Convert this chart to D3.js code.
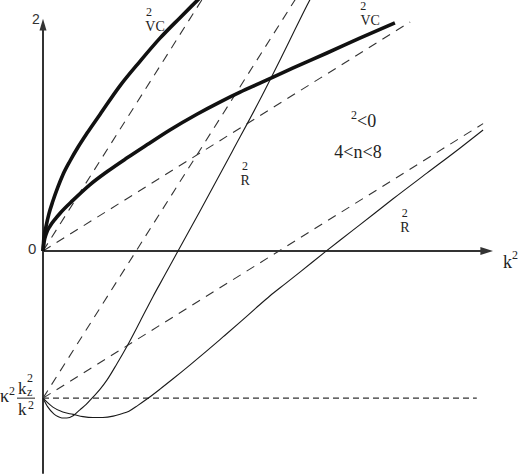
<!DOCTYPE html>
<html>
<head>
<meta charset="utf-8">
<script src="https://cdn.jsdelivr.net/npm/d3@7"></script>
<style>
  html, body { margin: 0; padding: 0; background: #fff; }
  svg { display: block; }
</style>
</head>
<body>
<div id="chart"></div>
<script>
// schematic dispersion curves, values in plot units (x = k^2, y = omega^2)
const kzLevel = -3.27;

const vcUpper = [[0,0],[0.02,0.29],[0.07,0.56],[0.13,0.82],[0.22,1.11],[0.33,1.42],[0.44,1.69],
  [0.60,2.00],[0.78,2.31],[0.98,2.62],[1.27,3.04],[1.71,3.67],[2.16,4.22],[2.60,4.73],
  [3.04,5.18],[3.44,5.58],[3.53,5.67]];

const vcLower = [[0,0],[0.02,0.18],[0.07,0.38],[0.16,0.56],[0.27,0.71],[0.38,0.84],[0.67,1.13],
  [1.04,1.47],[1.42,1.76],[1.87,2.07],[2.31,2.36],[2.82,2.69],[3.42,3.04],[3.93,3.31],
  [4.38,3.53],[4.82,3.73],[5.56,4.07],[6.31,4.40],[7.04,4.73],[7.82,5.07]];

const rSteep = [[0,-3.27],[0.11,-3.47],[0.24,-3.62],[0.33,-3.68],[0.42,-3.71],[0.53,-3.71],
  [0.67,-3.66],[0.82,-3.53],[0.96,-3.41],[1.09,-3.27],[1.27,-3.07],[1.42,-2.87],[1.64,-2.51],
  [1.87,-2.11],[2.16,-1.56],[2.44,-1.02],[2.71,-0.53],[3.00,0],[3.49,0.89],[4.22,2.24],
  [4.82,3.36],[5.38,4.47],[5.93,5.58],[6.00,5.71]];

const rWide = [[0,-3.27],[0.22,-3.47],[0.44,-3.58],[0.67,-3.63],[0.89,-3.68],[1.11,-3.70],
  [1.33,-3.70],[1.56,-3.67],[1.73,-3.62],[1.91,-3.56],[2.11,-3.43],[2.31,-3.29],[2.60,-3.07],
  [2.89,-2.84],[3.27,-2.53],[3.64,-2.22],[4.00,-1.91],[4.38,-1.58],[4.73,-1.27],[5.04,-1.00],
  [5.38,-0.73],[5.71,-0.47],[6.27,-0.02],[6.60,0.24],[7.04,0.58],[7.78,1.16],[8.53,1.73],
  [9.27,2.29],[9.78,2.69]];

// dashed asymptotes and the kz level line
const dashedLines = [
  { pts: [[0,0],[3.6,5.69]], dash: '9,7' },
  { pts: [[0,kzLevel],[5.67,5.69]], dash: '9,7' },
  { pts: [[0,0],[8.16,5.09]], dash: '9,7' },
  { pts: [[0,kzLevel],[9.78,2.83]], dash: '9,7' },
  { pts: [[0,kzLevel],[9.64,kzLevel]], dash: '6,4' }
];

// label anchor = baseline centre of the name; sup sits above it
const curveLabels = [
  { x: 2.49, y: 4.89, sup: '2', supDx: -6, main: 'VC' },
  { x: 7.27, y: 5.02, sup: '2', supDx: -7, main: 'VC' },
  { x: 4.49, y: 1.47, sup: '2', supDx: 0, main: 'R' },
  { x: 8.04, y: 0.42, sup: '2', supDx: 0, main: 'R' }
];

const width = 520;
const height = 474;

const x = d3.scaleLinear().domain([0, 10]).range([43, 493]);
const y = d3.scaleLinear().domain([-5, 5]).range([476, 26]);

const svg = d3.select('#chart')
  .append('svg')
  .attr('width', width)
  .attr('height', height)
  .attr('viewBox', `0 0 ${width} ${height}`);

const line = d3.line()
  .x(d => x(d[0]))
  .y(d => y(d[1]))
  .curve(d3.curveMonotoneX);

// dashed lines
svg.selectAll('.dash')
  .data(dashedLines)
  .join('path')
  .attr('class', 'dash')
  .attr('d', d => line(d.pts))
  .attr('fill', 'none')
  .attr('stroke', '#333')
  .attr('stroke-width', 1.1)
  .attr('stroke-dasharray', d => d.dash);

// axes (no ticks in the original)
const axisColor = '#333';
svg.append('line')
  .attr('x1', x(0)).attr('y1', y(-4.95))
  .attr('x2', x(0)).attr('y2', y(4.95))
  .attr('stroke', axisColor).attr('stroke-width', 2);
svg.append('path')
  .attr('d', `M${x(0)},${y(5.16)} L${x(0) - 3.5},${y(4.9)} L${x(0) + 3.5},${y(4.9)} Z`)
  .attr('fill', axisColor);

svg.append('line')
  .attr('x1', x(0)).attr('y1', y(0))
  .attr('x2', x(9.78)).attr('y2', y(0))
  .attr('stroke', axisColor).attr('stroke-width', 2);
svg.append('path')
  .attr('d', `M${x(10)},${y(0)} L${x(9.72)},${y(0) - 4} L${x(9.72)},${y(0) + 4} Z`)
  .attr('fill', axisColor);

// thin R curves
svg.selectAll('.rcurve')
  .data([rSteep, rWide])
  .join('path')
  .attr('class', 'rcurve')
  .attr('d', line)
  .attr('fill', 'none')
  .attr('stroke', '#1a1a1a')
  .attr('stroke-width', 1.1);

// thick VC curves
svg.selectAll('.vccurve')
  .data([vcUpper, vcLower])
  .join('path')
  .attr('class', 'vccurve')
  .attr('d', line)
  .attr('fill', 'none')
  .attr('stroke', '#111')
  .attr('stroke-width', 3.6)
  .attr('stroke-linecap', 'butt');

// curve labels: superscript 2 stacked above the name
const serif = '"Liberation Serif", "Times New Roman", serif';
const sans = '"Liberation Sans", Arial, sans-serif';

const lab = svg.selectAll('.clabel')
  .data(curveLabels)
  .join('g')
  .attr('class', 'clabel')
  .attr('transform', d => `translate(${x(d.x)}, ${y(d.y)})`)
  .style('font-family', serif)
  .attr('fill', '#222');

lab.append('text')
  .attr('x', d => d.supDx).attr('y', -15)
  .attr('text-anchor', 'middle')
  .style('font-size', '12px')
  .text(d => d.sup);

lab.append('text')
  .attr('x', 0).attr('y', 0)
  .attr('text-anchor', 'middle')
  .style('font-size', '14px')
  .text(d => d.main);

// axis labels
svg.append('text')
  .attr('x', 32).attr('y', 24)
  .style('font-family', sans).style('font-size', '14px')
  .attr('fill', '#333')
  .text('2');

svg.append('text')
  .attr('x', 28).attr('y', 254)
  .style('font-family', sans).style('font-size', '15px')
  .attr('fill', '#333')
  .text('0');

const k2 = svg.append('text')
  .attr('x', 503).attr('y', 268)
  .style('font-family', serif).style('font-size', '18px')
  .attr('fill', '#222');
k2.append('tspan').text('k');
k2.append('tspan').attr('dy', -9).style('font-size', '12px').text('2');

// region annotation
const reg = svg.append('text')
  .attr('x', 351).attr('y', 127)
  .style('font-family', serif).style('font-size', '18px')
  .attr('fill', '#222');
reg.append('tspan').attr('dy', -8).style('font-size', '12px').text('2');
reg.append('tspan').attr('dy', 8).text('<0');

svg.append('text')
  .attr('x', 358).attr('y', 158)
  .attr('text-anchor', 'middle')
  .style('font-family', serif).style('font-size', '18px')
  .attr('fill', '#222')
  .text('4<n<8');

// kz level label: kappa^2 k_z^2 / k^2
const kz = svg.append('g')
  .style('font-family', serif)
  .attr('fill', '#222');
kz.append('text').attr('x', 0).attr('y', 402).style('font-size', '18px').text('κ');
kz.append('text').attr('x', 9).attr('y', 395).style('font-size', '12px').text('2');
kz.append('text').attr('x', 18).attr('y', 394).style('font-size', '17px').text('k');
kz.append('text').attr('x', 27).attr('y', 382).style('font-size', '12px').text('2');
kz.append('text').attr('x', 27).attr('y', 396).style('font-size', '12px').text('z');
kz.append('line')
  .attr('x1', 17).attr('x2', 35)
  .attr('y1', y(kzLevel)).attr('y2', y(kzLevel))
  .attr('stroke', '#222').attr('stroke-width', 1);
kz.append('text').attr('x', 18).attr('y', 415).style('font-size', '17px').text('k');
kz.append('text').attr('x', 28).attr('y', 409).style('font-size', '12px').text('2');
</script>
</body>
</html>
